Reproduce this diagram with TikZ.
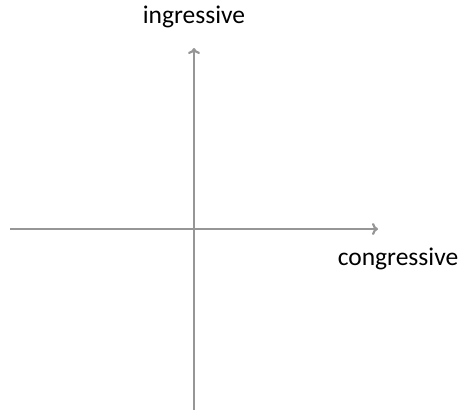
\documentclass[tikz,border=0pt]{standalone}
\usepackage{fontspec}
\setmainfont{Carlito}
\usetikzlibrary{arrows.meta}
\definecolor{axisgray}{RGB}{150,150,150}
\begin{document}
\begin{tikzpicture}[x=1pt,y=-1pt,
  axis/.style={draw=axisgray,line width=2.2pt,-{To[length=6pt,width=12pt]}},
  lab/.style={font=\fontsize{25.5}{28}\selectfont,inner sep=0pt}]
\useasboundingbox (0,0) rectangle (470,413);
\coordinate (hs) at (10,229);
\coordinate (he) at (378,229);
\coordinate (vs) at (194,410);
\coordinate (ve) at (194,48);
\draw[axis] (hs) -- (he);
\draw[axis] (vs) -- (ve);
\node[lab] (ing) at (194,17) {ingressive};
\node[lab] (cong) at (398,259) {congressive};
\end{tikzpicture}
\end{document}
